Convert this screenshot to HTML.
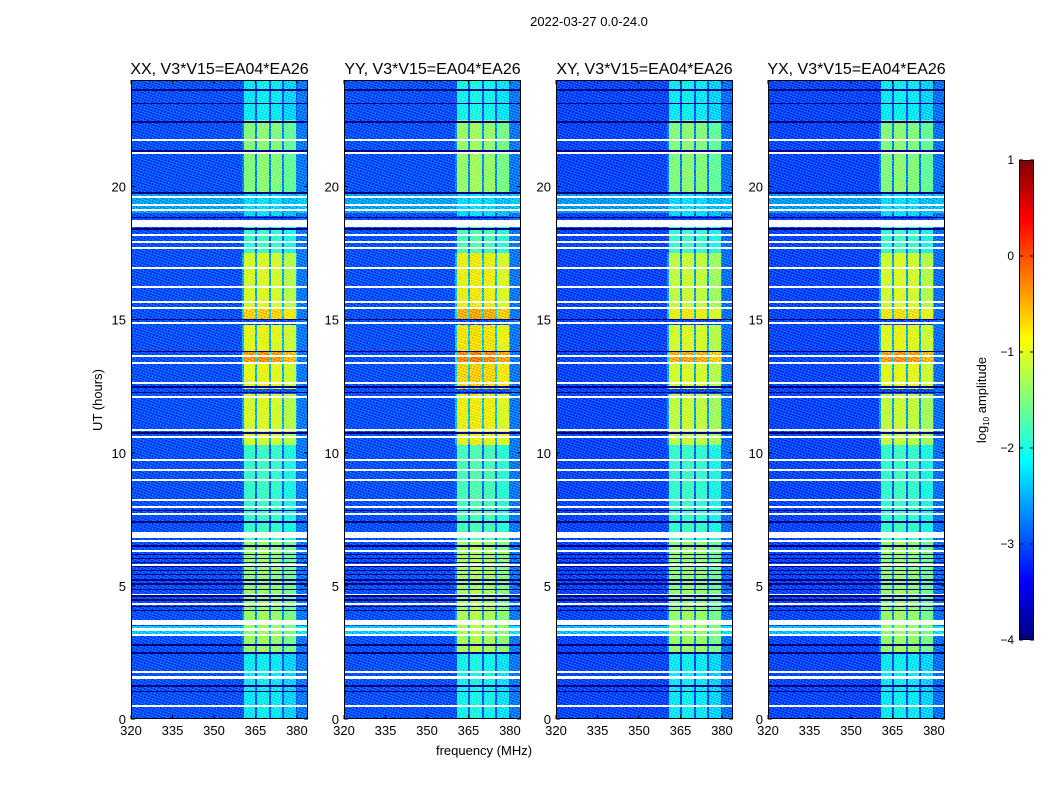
<!DOCTYPE html>
<html><head><meta charset="utf-8">
<style>
body{margin:0;background:#fff;width:1050px;height:800px;overflow:hidden;font-family:"Liberation Sans",sans-serif}
#wrap{position:relative;width:1050px;height:800px}
canvas{position:absolute;image-rendering:pixelated}
svg{position:absolute;left:0;top:0}
</style></head><body>
<div id="wrap">
<canvas id="c0" width="177" height="639" style="left:131px;top:80px"></canvas>
<canvas id="c1" width="177" height="639" style="left:344px;top:80px"></canvas>
<canvas id="c2" width="177" height="639" style="left:556px;top:80px"></canvas>
<canvas id="c3" width="177" height="639" style="left:768px;top:80px"></canvas>
<canvas id="cb" width="15" height="480" style="left:1019px;top:160px"></canvas>
<svg id="ov" width="1050" height="800"></svg>
</div>
<script>
const panelTitles=["XX, V3*V15=EA04*EA26","YY, V3*V15=EA04*EA26","XY, V3*V15=EA04*EA26","YX, V3*V15=EA04*EA26"];
const xTicks=[320,335,350,365,380];
const yTicks=[0,5,10,15,20];
const cbTicks=[-4,-3,-2,-1,0,1];
// sub-band edges (MHz) and relative gains
const bands=[[361,364.8],[365.6,369.8],[370.6,374.7],[375.4,379.5]];
const bandGain=[0,0.05,0,-0.15];
// time segments [start,end] hours and band level (log10) per panel
const segStart=[0,2.5,6.7,10.3,12.4,13.4,13.8,15.0,15.4,17.5,18.9,19.8,22.5];
const segEnd  =[2.5,6.7,10.3,12.2,13.4,13.8,14.8,15.4,17.5,18.5,19.8,22.5,24];
const segXX=[-2.2,-1.4,-1.9,-1.1,-1.0,-0.4,-1.0,-0.7,-1.1,-1.9,-2.3,-1.5,-2.2];
const segYY=[-2.1,-1.3,-1.8,-0.9,-0.7,-0.3,-0.8,-0.5,-0.9,-1.8,-2.3,-1.4,-2.1];
const segXY=[-2.2,-1.4,-1.9,-1.2,-1.1,-0.5,-1.1,-0.9,-1.2,-1.9,-2.3,-1.5,-2.2];
const segYX=[-2.2,-1.4,-1.9,-1.2,-1.0,-0.4,-1.0,-0.8,-1.1,-1.9,-2.3,-1.5,-2.2];
const segs=[segXX,segYY,segXY,segYX];
// background level per panel
const bgLevel=[-3.0,-3.0,-3.05,-3.05];
// elevated background intervals
const bgHiStart=[3.15,19.0];
const bgHiEnd=[3.5,19.8];
const bgHiLevel=[-2.4,-2.6];
// flagged (white) intervals
const flagStart=[0.46,1.52,1.72,3.12,3.32,3.53,4.3,4.65,5.75,6.28,6.66,6.80,7.67,7.93,8.20,8.95,9.32,9.70,10.56,10.82,12.06,12.59,13.34,13.60,14.84,15.40,15.63,16.19,16.90,17.65,17.88,18.14,18.48,19.08,19.27,19.57,21.22,21.71];
const flagEnd  =[0.54,1.60,1.80,3.20,3.40,3.72,4.36,4.71,5.81,6.34,6.72,7.03,7.73,7.99,8.26,9.01,9.38,9.76,10.62,10.88,12.12,12.65,13.40,13.66,14.90,15.46,15.69,16.25,16.96,17.71,17.94,18.20,18.74,19.14,19.33,19.63,21.28,21.77];
// dark (black) intervals
const darkStart=[1.0,1.2,2.45,2.75,4.05,4.2,4.45,4.6,4.85,5.05,5.2,5.4,5.55,5.7,5.85,6.0,6.15,6.3,6.45,7.35,7.8,10.72,12.25,12.45,13.8,15.0,18.38,18.8,19.72,21.3,22.4,23.1,23.6];
const darkEnd  =[1.05,1.26,2.5,2.8,4.1,4.26,4.5,4.66,4.9,5.1,5.26,5.45,5.6,5.75,5.9,6.05,6.2,6.35,6.52,7.42,7.85,10.78,12.3,12.52,13.84,15.04,18.46,18.86,19.78,21.36,22.46,23.15,23.66];
// speckle texture (style)
const tex=[0.25,-0.2,0.1,-0.3,0.35,-0.05,0.15,-0.25,0.05,0.3,-0.15,0.2,-0.35,0.0,0.12,-0.1,0.28];

const W=177,H=639,X0=320,X1=384,T0=0,T1=24,V0=-4,V1=1;
const xScale=f=>(f-X0)/(X1-X0)*W;
const yScale=t=>H-(t-T0)/(T1-T0)*H;
function jet(v){let t=Math.max(0,Math.min(1,(v-V0)/(V1-V0)));
 const r=Math.max(0,Math.min(1,1.5-Math.abs(4*t-3))),g=Math.max(0,Math.min(1,1.5-Math.abs(4*t-2))),b=Math.max(0,Math.min(1,1.5-Math.abs(4*t-1)));
 return [r*255,g*255,b*255];}
function inI(t,s,e){for(let i=0;i<s.length;i++)if(t>=s[i]&&t<e[i])return i;return -1;}
for(let p=0;p<4;p++){
 const ctx=document.getElementById('c'+p).getContext('2d');
 const img=ctx.createImageData(W,H);
 for(let y=0;y<H;y++){
  const t=T0+(H-y-0.5)/H*(T1-T0);
  const fl=inI(t,flagStart,flagEnd)>=0, dk=inI(t,darkStart,darkEnd)>=0;
  const si=inI(t,segStart,segEnd);
  const bh=inI(t,bgHiStart,bgHiEnd);
  for(let x=0;x<W;x++){
   const f=X0+(x+0.5)/W*(X1-X0);let c;
   if(fl)c=[255,255,255];
   else{
    let v=bh>=0?bgLevel[p]+ (bgHiLevel[bh]-(-3.0)):bgLevel[p];
    if(f>380)v+=0.2;
    let bi=-1;for(let b=0;b<bands.length;b++)if(f>=bands[b][0]&&f<bands[b][1])bi=b;
    if(bi>=0&&si>=0)v=Math.max(v,segs[p][si]+bandGain[bi]);
    else if(f>=360&&f<380&&si>=0)v=Math.max(v,(segs[p][si]+v)/2-0.5);
    v+=0.8*tex[(x*7+y*13)%tex.length];
    if(dk)v=-4.3;
    c=jet(v);
   }
   const k=(y*W+x)*4;img.data[k]=c[0];img.data[k+1]=c[1];img.data[k+2]=c[2];img.data[k+3]=255;
  }
 }
 ctx.putImageData(img,0,0);
}
// colorbar
(function(){const ctx=document.getElementById('cb').getContext('2d');
 for(let y=0;y<480;y++){const v=V1-(y+0.5)/480*(V1-V0);const c=jet(v);ctx.fillStyle=`rgb(${c[0]|0},${c[1]|0},${c[2]|0})`;ctx.fillRect(0,y,15,1);}})();
// overlay
const NS='http://www.w3.org/2000/svg',ov=document.getElementById('ov');
function el(tag,attrs,txt){const e=document.createElementNS(NS,tag);for(const k in attrs)e.setAttribute(k,attrs[k]);if(txt!==undefined)e.textContent=txt;ov.appendChild(e);return e;}
const lefts=[131,344,556,768],top0=80;
let e=el('text',{x:589,y:26,'font-size':13,'text-anchor':'middle'},'2022-03-27 0.0-24.0');


for(let p=0;p<4;p++){
 const L=lefts[p];
 e=el('text',{x:L+W/2,y:74,'font-size':16,'text-anchor':'middle'},panelTitles[p]);
 
 
 e=el('rect',{x:L+0.5,y:top0+0.5,width:W-1,height:H-1,fill:'none',stroke:'#000','stroke-width':1});
 
 
 xTicks.forEach(v=>{const x=L+xScale(v);
  el('line',{x1:x,x2:x,y1:top0+H,y2:top0+H-4,stroke:'#000'});
  el('line',{x1:x,x2:x,y1:top0,y2:top0+4,stroke:'#000'});
  e=el('text',{x:x,y:top0+H+16,'font-size':13,'text-anchor':'middle'},v);
  
  });
 yTicks.forEach(v=>{const y=top0+yScale(v);
  el('line',{x1:L,x2:L+4,y1:y,y2:y,stroke:'#000'});
  el('line',{x1:L+W,x2:L+W-4,y1:y,y2:y,stroke:'#000'});
  e=el('text',{x:L-5,y:y+5,'font-size':13,'text-anchor':'end'},v);
  
  });
}
e=el('text',{x:484,y:755,'font-size':13,'text-anchor':'middle'},'frequency (MHz)');


e=el('text',{x:0,y:0,'font-size':13,'text-anchor':'middle',transform:'translate(102,400) rotate(-90)'},'UT (hours)');


el('rect',{x:1019.5,y:160.5,width:14,height:479,fill:'none',stroke:'#000'});
cbTicks.forEach(v=>{const y=160+(V1-v)/(V1-V0)*480;
 el('line',{x1:1019,x2:1023,y1:y,y2:y,stroke:'#000'});el('line',{x1:1034,x2:1030,y1:y,y2:y,stroke:'#000'});
 e=el('text',{x:1014,y:y+4,'font-size':12,'text-anchor':'end'},v<0?'\u2212'+(-v):String(v));
 
 });
e=el('text',{x:0,y:0,'font-size':13,'text-anchor':'middle',transform:'translate(986,400) rotate(-90)'});


e.innerHTML='log<tspan font-size="8" dy="3">10</tspan><tspan dy="-3"> amplitude</tspan>';
</script>
</body></html>
